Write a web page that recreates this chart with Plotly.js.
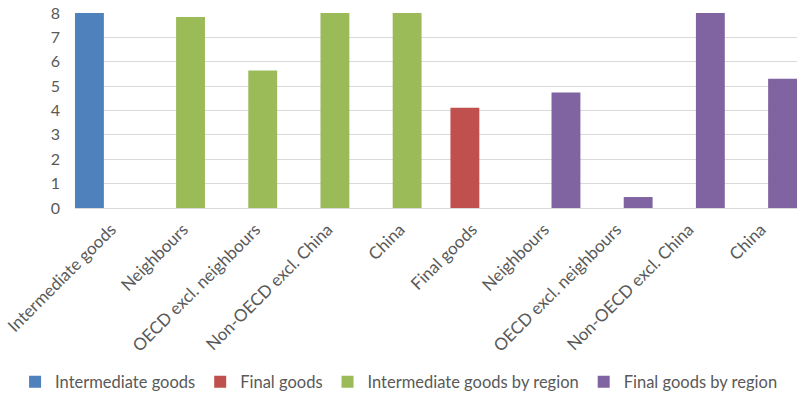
<!DOCTYPE html>
<html>
<head>
<meta charset="utf-8">
<script src="https://cdn.plot.ly/plotly-3.0.1.min.js"></script>
<style>html,body{margin:0;padding:0;background:#fff;}#chart{width:800px;height:397px;}</style>
</head>
<body>
<div id="chart"></div>
<script>
// Category labels (positions 0..9 on the axis)
const categories = ["Intermediate goods", "Neighbours", "OECD excl. neighbours", "Non-OECD excl. China", "China",
                    "Final goods", "Neighbours", "OECD excl. neighbours", "Non-OECD excl. China", "China"];
const seriesNames = ["Intermediate goods", "Final goods", "Intermediate goods by region", "Final goods by region"];
// Values (bars above 8 are cut off by the axis in the original; estimated)
const intermediateGoods = [9.5, null, null, null, null, null, null, null, null, null];
const finalGoods        = [null, null, null, null, null, 4.11, null, null, null, null];
const intermediateByRegion = [null, 7.84, 5.64, 10.0, 9.0, null, null, null, null, null];
const finalByRegion        = [null, null, null, null, null, null, 4.74, 0.45, 11.0, 5.30];
const yTicks = [0, 1, 2, 3, 4, 5, 6, 7, 8];

const colors = ["#4f81bd", "#c0504d", "#9bbb59", "#8064a2"];
const offsets = [-0.5, -0.3, -0.1, 0.1];
const allSeries = [intermediateGoods, finalGoods, intermediateByRegion, finalByRegion];
const xs = categories.map((_, i) => i);

const traces = allSeries.map((vals, s) => ({
  type: "bar",
  name: seriesNames[s],
  x: xs,
  y: vals,
  width: 0.4,
  offset: offsets[s],
  marker: {color: colors[s]},
  hoverinfo: "skip"
}));

const fam = "Lato, 'Open Sans', sans-serif";
const xfont = {family: fam, color: "#595959", size: 17};
const yfont = {family: fam, color: "#595959", size: 16};
const lfont = {family: fam, color: "#595959", size: 16.5};

const layout = {
  width: 800, height: 397,
  margin: {l: 75, r: 3, t: 13, b: 189, autoexpand: false},
  paper_bgcolor: "#ffffff",
  plot_bgcolor: "#ffffff",
  barmode: "overlay",
  showlegend: true,
  font: xfont,
  xaxis: {
    range: [-0.5, 9.5],
    tickmode: "array",
    tickvals: xs,
    ticktext: categories,
    tickangle: -45,
    ticks: "",
    ticklabelstandoff: 4,
    showline: true,
    linecolor: "#d9d9d9",
    linewidth: 1,
    showgrid: false,
    zeroline: false,
    tickfont: xfont,
    automargin: false,
    fixedrange: true
  },
  yaxis: {
    range: [0, 8],
    tickmode: "array",
    tickvals: yTicks,
    ticktext: yTicks.map(String),
    showgrid: true,
    gridcolor: "#d9d9d9",
    gridwidth: 1,
    zeroline: false,
    showline: false,
    ticks: "",
    ticklabelstandoff: 14,
    tickfont: yfont,
    automargin: false,
    fixedrange: true
  },
  legend: {
    orientation: "h",
    x: -0.083, xanchor: "left",
    y: -0.892, yanchor: "middle",
    font: lfont,
    itemwidth: 30,
    traceorder: "normal",
    bgcolor: "rgba(0,0,0,0)"
  }
};

Plotly.newPlot("chart", traces, layout, {staticPlot: true, displayModeBar: false});
</script>
</body>
</html>
